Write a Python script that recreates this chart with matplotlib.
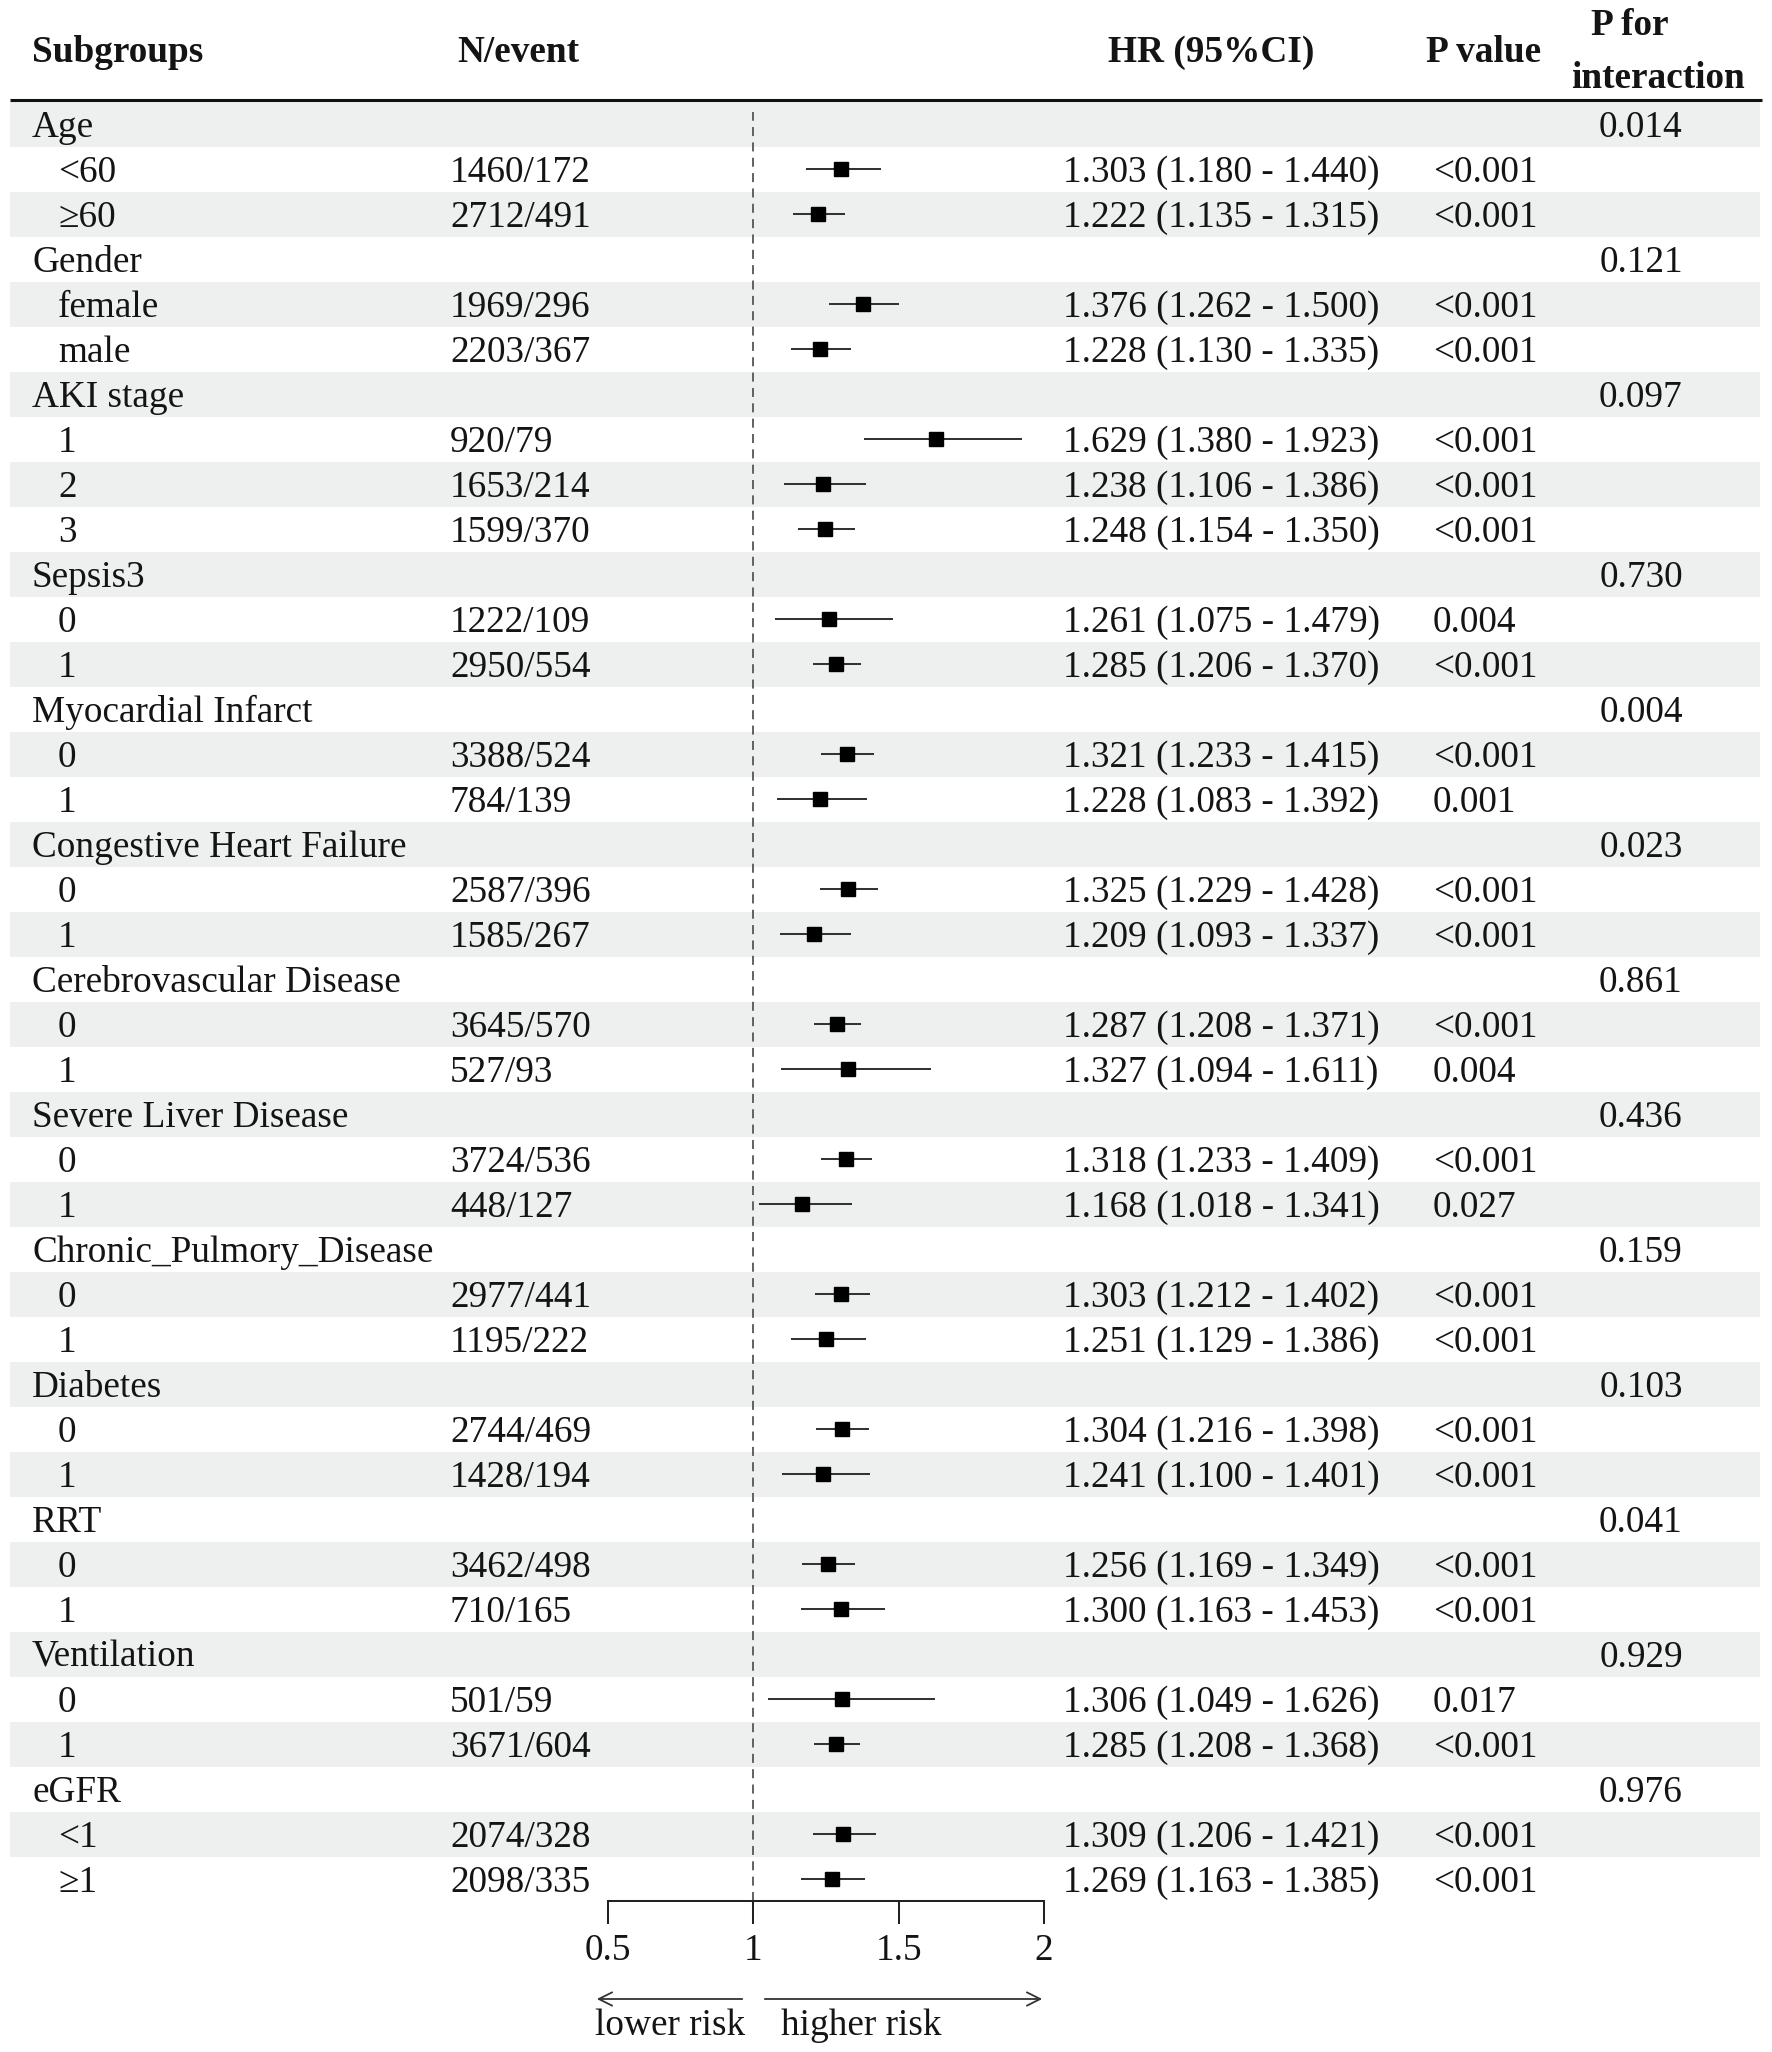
import numpy as np
import matplotlib.pyplot as plt
from matplotlib.patches import Rectangle

plt.rcParams['font.family'] = ['Liberation Serif', 'DejaVu Serif']

# data
group_names = ['Age', 'Gender', 'AKI stage', 'Sepsis3', 'Myocardial Infarct',
               'Congestive Heart Failure', 'Cerebrovascular Disease',
               'Severe Liver Disease', 'Chronic_Pulmory_Disease', 'Diabetes',
               'RRT', 'Ventilation', 'eGFR']
p_interaction = ['0.014', '0.121', '0.097', '0.730', '0.004', '0.023', '0.861',
                 '0.436', '0.159', '0.103', '0.041', '0.929', '0.976']
levels = [['<60', '≥60'], ['female', 'male'], ['1', '2', '3'], ['0', '1'],
          ['0', '1'], ['0', '1'], ['0', '1'], ['0', '1'], ['0', '1'],
          ['0', '1'], ['0', '1'], ['0', '1'], ['<1', '≥1']]
n_event = ['1460/172', '2712/491', '1969/296', '2203/367', '920/79', '1653/214',
           '1599/370', '1222/109', '2950/554', '3388/524', '784/139', '2587/396',
           '1585/267', '3645/570', '527/93', '3724/536', '448/127', '2977/441',
           '1195/222', '2744/469', '1428/194', '3462/498', '710/165', '501/59',
           '3671/604', '2074/328', '2098/335']
hr = [1.303, 1.222, 1.376, 1.228, 1.629, 1.238, 1.248, 1.261, 1.285, 1.321,
      1.228, 1.325, 1.209, 1.287, 1.327, 1.318, 1.168, 1.303, 1.251, 1.304,
      1.241, 1.256, 1.300, 1.306, 1.285, 1.309, 1.269]
hr_low = [1.180, 1.135, 1.262, 1.130, 1.380, 1.106, 1.154, 1.075, 1.206, 1.233,
          1.083, 1.229, 1.093, 1.208, 1.094, 1.233, 1.018, 1.212, 1.129, 1.216,
          1.100, 1.169, 1.163, 1.049, 1.208, 1.206, 1.163]
hr_high = [1.440, 1.315, 1.500, 1.335, 1.923, 1.386, 1.350, 1.479, 1.370, 1.415,
           1.392, 1.428, 1.337, 1.371, 1.611, 1.409, 1.341, 1.402, 1.386, 1.398,
           1.401, 1.349, 1.453, 1.626, 1.368, 1.421, 1.385]
p_value = ['<0.001', '<0.001', '<0.001', '<0.001', '<0.001', '<0.001', '<0.001',
           '0.004', '<0.001', '<0.001', '0.001', '<0.001', '<0.001', '<0.001',
           '0.004', '<0.001', '0.027', '<0.001', '<0.001', '<0.001', '<0.001',
           '<0.001', '<0.001', '0.017', '<0.001', '<0.001', '<0.001']
ticks = [0.5, 1, 1.5, 2]
tick_labels = ['0.5', '1', '1.5', '2']

W, H = 1772, 2052
fs = 26.8
txt = '#141414'
row0, step = 124, 45.0

# row list: group header rows and level rows
rows = []
k = 0
for g in range(len(group_names)):
    rows.append(('group', g))
    for lev in levels[g]:
        rows.append(('level', k, lev))
        k += 1
n_rows = len(rows)

fig = plt.figure(figsize=(W / 100, H / 100), dpi=100)
ax = fig.add_axes([0, 0, 1, 1])
ax.set_xlim(0, W)
ax.set_ylim(H, 0)
ax.axis('off')

# alternating shading
for i in range(0, n_rows, 2):
    yc = row0 + step * i
    ax.add_patch(Rectangle((10, yc - step / 2), 1750, step, color='#eef0ef', lw=0, zorder=0))

# header
hy = 62
ax.text(32, hy, 'Subgroups', fontsize=fs, fontweight='bold', ha='left', va='baseline', color=txt)
ax.text(518, hy, 'N/event', fontsize=fs, fontweight='bold', ha='center', va='baseline', color=txt)
ax.text(1211, hy, 'HR (95%CI)', fontsize=fs, fontweight='bold', ha='center', va='baseline', color=txt)
ax.text(1484, hy, 'P value', fontsize=fs, fontweight='bold', ha='center', va='baseline', color=txt)
ax.text(1630, 35, 'P for', fontsize=fs, fontweight='bold', ha='center', va='baseline', color=txt)
ax.text(1658, 88, 'interaction', fontsize=fs, fontweight='bold', ha='center', va='baseline', color=txt)
ax.plot([10, 1762], [100, 100], color='#111111', lw=2.2, solid_capstyle='butt')

# table text
for i, r in enumerate(rows):
    yb = row0 + step * i + 12.7
    if r[0] == 'group':
        g = r[1]
        ax.text(32, yb, group_names[g], fontsize=fs, ha='left', va='baseline', color=txt)
        ax.text(1641, yb, p_interaction[g], fontsize=fs, ha='center', va='baseline', color=txt)
    else:
        j = r[1]
        ax.text(58, yb, r[2], fontsize=fs, ha='left', va='baseline', color=txt)
        ax.text(450, yb, n_event[j], fontsize=fs, ha='left', va='baseline', color=txt)
        ax.text(1063, yb, f'{hr[j]:.3f} ({hr_low[j]:.3f} - {hr_high[j]:.3f})',
                fontsize=fs, ha='left', va='baseline', color=txt)
        ax.text(1433, yb, p_value[j], fontsize=fs, ha='left', va='baseline', color=txt)

# forest panel
top_px, axis_px = 112, 1901
fx = fig.add_axes([608 / W, 1 - axis_px / H, 436 / W, (axis_px - top_px) / H])
fx.patch.set_alpha(0)
fx.set_xlim(0.5, 2)
fx.set_ylim((axis_px - row0) / step, (top_px - row0) / step)
for s in ['top', 'left', 'right']:
    fx.spines[s].set_visible(False)
fx.spines['bottom'].set_linewidth(1.45)
fx.spines['bottom'].set_color('#222222')
fx.set_yticks([])
fx.set_xticks(ticks)
fx.set_xticklabels(tick_labels)
fx.tick_params(axis='x', direction='out', length=16.5, width=1.45, color='#222222',
               pad=7, labelsize=fs, labelcolor=txt)
fx.axvline(1, color='#555555', lw=1.3, ls=(0, (5, 3.5)))

lvl_y = [i for i, r in enumerate(rows) if r[0] == 'level']
fx.hlines(lvl_y, hr_low, hr_high, color='#333333', lw=1.45)
fx.plot(hr, lvl_y, 's', color='black', markersize=9.4, ls='none')

# risk arrows
ax.annotate('', xy=(594, 1999), xytext=(745, 1999),
            arrowprops=dict(arrowstyle='->', lw=1.3, color='#333333', mutation_scale=24))
ax.annotate('', xy=(1045, 1999), xytext=(762, 1999),
            arrowprops=dict(arrowstyle='->', lw=1.3, color='#333333', mutation_scale=24))
ax.text(670, 2035, 'lower risk', fontsize=fs, ha='center', va='baseline', color=txt)
ax.text(861, 2035, 'higher risk', fontsize=fs, ha='center', va='baseline', color=txt)

fig.savefig('out.png', dpi=100)
